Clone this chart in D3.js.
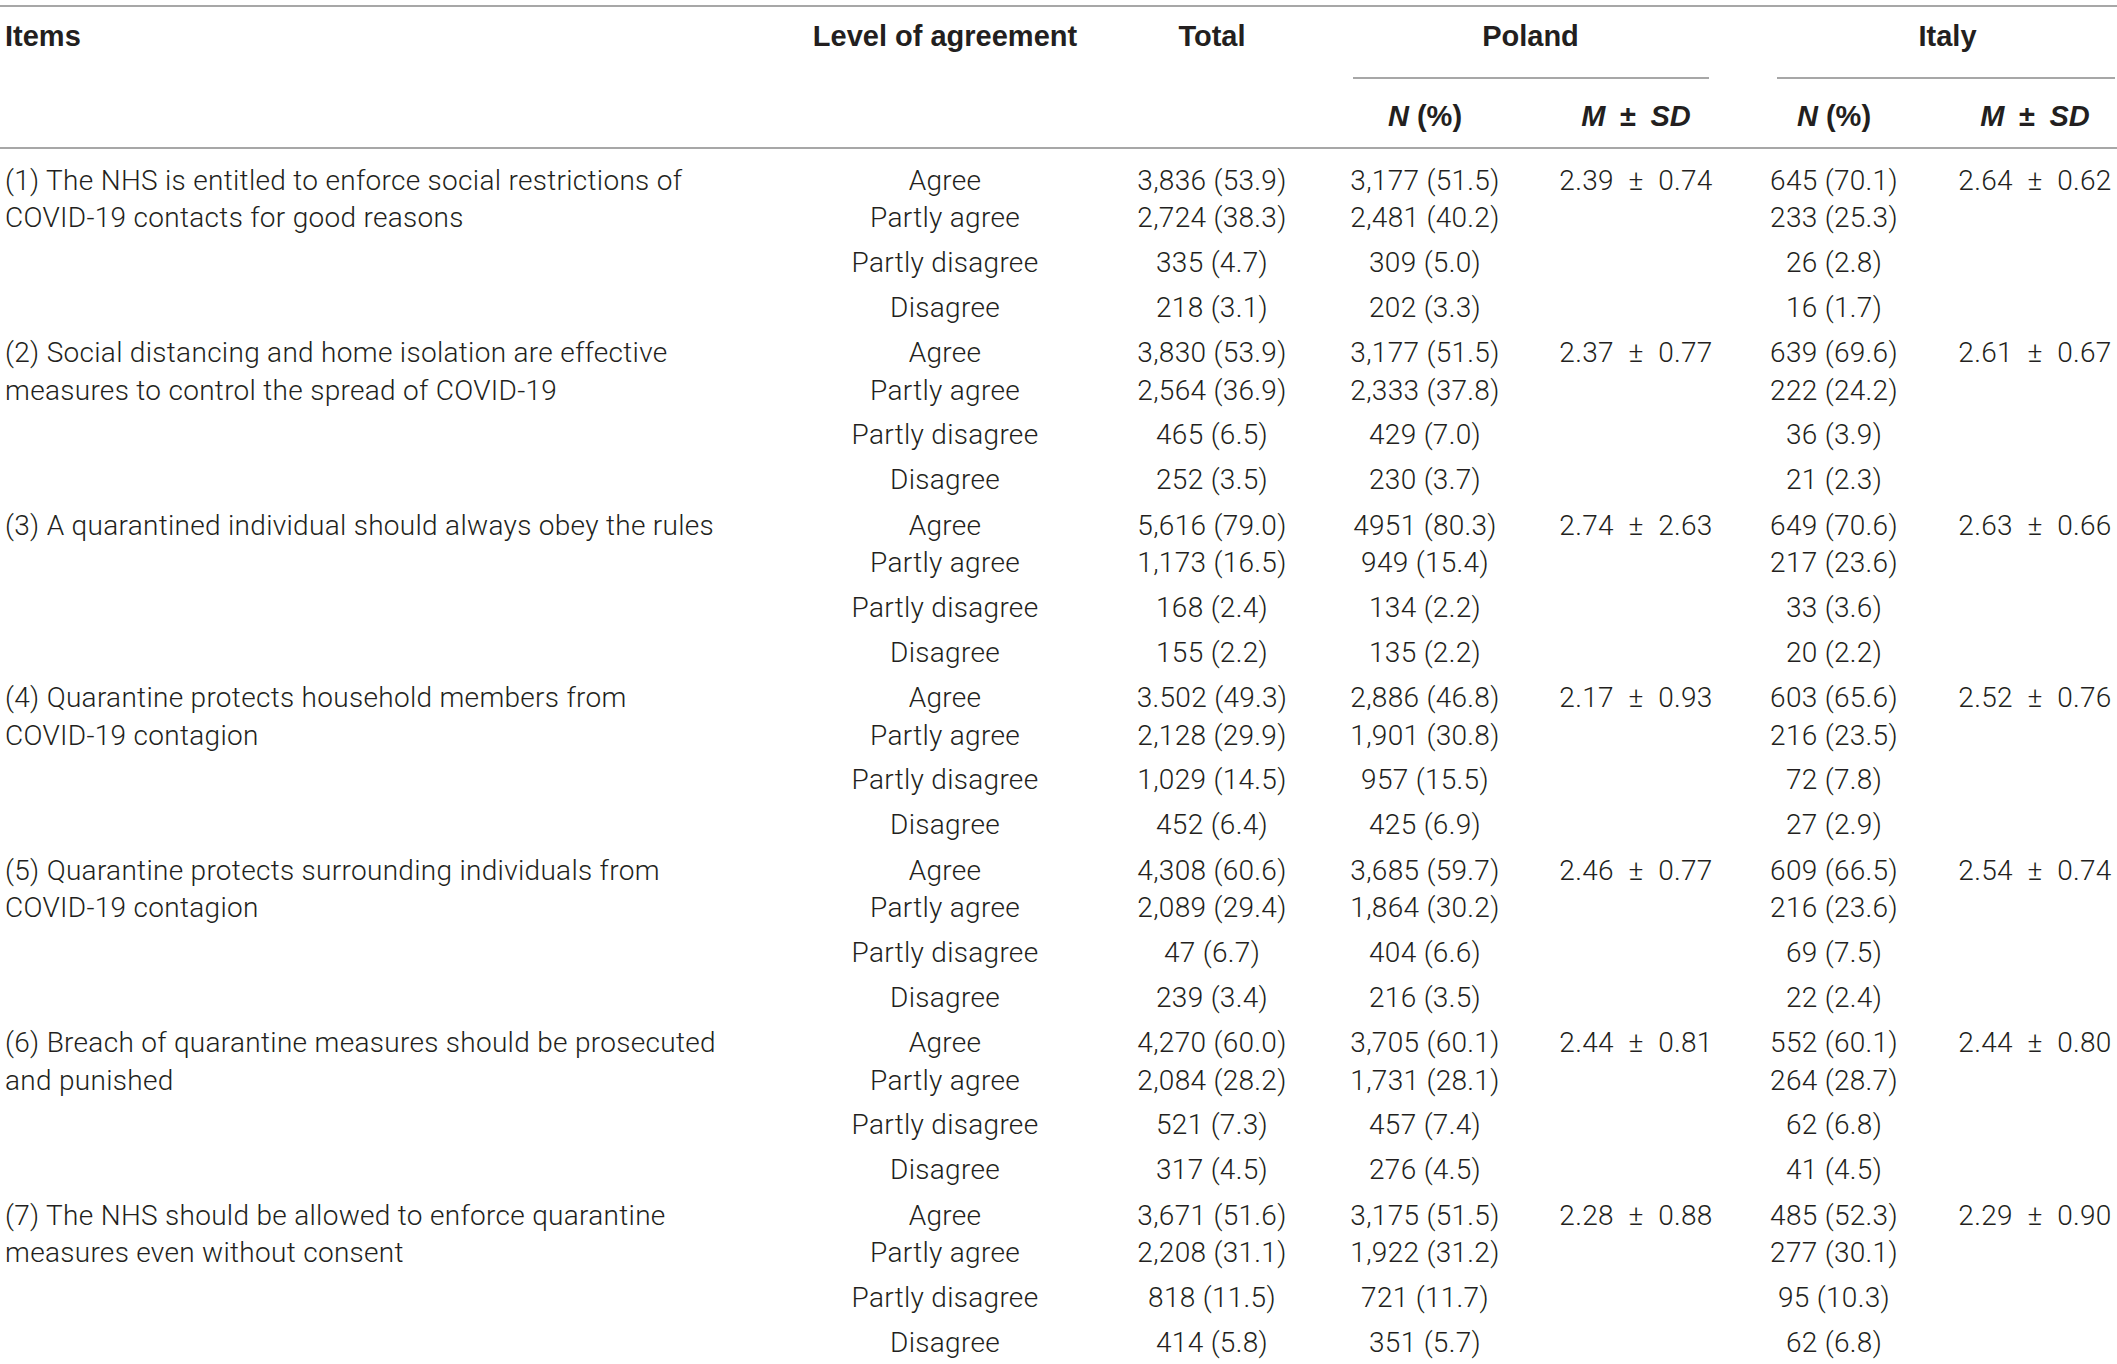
<html>
<head>
  <script src="https://d3js.org/d3.v7.min.js"></script>
  <style>
    body { margin: 0; background: #fff; }
    text { fill: #231f20; }
    .body text { font-family: Roboto, "Liberation Sans", sans-serif; font-weight: 300; letter-spacing: 0.3px; }
    .head text { font-family: "Liberation Sans", Arial, sans-serif; font-weight: 700; }
  </style>
</head>
<body>
<script>
// table contents
var items = [
  ["(1) The NHS is entitled to enforce social restrictions of", "COVID-19 contacts for good reasons"],
  ["(2) Social distancing and home isolation are effective", "measures to control the spread of COVID-19"],
  ["(3) A quarantined individual should always obey the rules"],
  ["(4) Quarantine protects household members from", "COVID-19 contagion"],
  ["(5) Quarantine protects surrounding individuals from", "COVID-19 contagion"],
  ["(6) Breach of quarantine measures should be prosecuted", "and punished"],
  ["(7) The NHS should be allowed to enforce quarantine", "measures even without consent"]
];
var levels = ["Agree", "Partly agree", "Partly disagree", "Disagree"];

var totalN = [
  ["3,836 (53.9)", "2,724 (38.3)", "335 (4.7)", "218 (3.1)"],
  ["3,830 (53.9)", "2,564 (36.9)", "465 (6.5)", "252 (3.5)"],
  ["5,616 (79.0)", "1,173 (16.5)", "168 (2.4)", "155 (2.2)"],
  ["3.502 (49.3)", "2,128 (29.9)", "1,029 (14.5)", "452 (6.4)"],
  ["4,308 (60.6)", "2,089 (29.4)", "47 (6.7)", "239 (3.4)"],
  ["4,270 (60.0)", "2,084 (28.2)", "521 (7.3)", "317 (4.5)"],
  ["3,671 (51.6)", "2,208 (31.1)", "818 (11.5)", "414 (5.8)"]
];
var polandN = [
  ["3,177 (51.5)", "2,481 (40.2)", "309 (5.0)", "202 (3.3)"],
  ["3,177 (51.5)", "2,333 (37.8)", "429 (7.0)", "230 (3.7)"],
  ["4951 (80.3)", "949 (15.4)", "134 (2.2)", "135 (2.2)"],
  ["2,886 (46.8)", "1,901 (30.8)", "957 (15.5)", "425 (6.9)"],
  ["3,685 (59.7)", "1,864 (30.2)", "404 (6.6)", "216 (3.5)"],
  ["3,705 (60.1)", "1,731 (28.1)", "457 (7.4)", "276 (4.5)"],
  ["3,175 (51.5)", "1,922 (31.2)", "721 (11.7)", "351 (5.7)"]
];
var polandMSD = [[2.39, 0.74], [2.37, 0.77], [2.74, 2.63], [2.17, 0.93], [2.46, 0.77], [2.44, 0.81], [2.28, 0.88]];
var italyN = [
  ["645 (70.1)", "233 (25.3)", "26 (2.8)", "16 (1.7)"],
  ["639 (69.6)", "222 (24.2)", "36 (3.9)", "21 (2.3)"],
  ["649 (70.6)", "217 (23.6)", "33 (3.6)", "20 (2.2)"],
  ["603 (65.6)", "216 (23.5)", "72 (7.8)", "27 (2.9)"],
  ["609 (66.5)", "216 (23.6)", "69 (7.5)", "22 (2.4)"],
  ["552 (60.1)", "264 (28.7)", "62 (6.8)", "41 (4.5)"],
  ["485 (52.3)", "277 (30.1)", "95 (10.3)", "62 (6.8)"]
];
var italyMSD = [[2.64, 0.62], [2.61, 0.67], [2.63, 0.66], [2.52, 0.76], [2.54, 0.74], [2.44, 0.80], [2.29, 0.90]];

var W = 2117, H = 1364;
var svg = d3.select("body").append("svg").attr("width", W).attr("height", H);

var cols = ["level", "total", "plN", "plM", "itN", "itM"];
var x = d3.scaleOrdinal().domain(cols).range([945, 1212, 1425, 1636, 1834, 2035]);

var y = d3.scaleBand().domain(d3.range(items.length)).range([180, 1388]);
var rowOff = d3.scaleOrdinal().domain(d3.range(4)).range([0, 37.5, 82, 127]);

var fs = 28, hfs = 29;
var sp = "\u2002";
var fmt = d3.format(".2f");

// rules
var rule = "#a7a7a7";
var rules = svg.append("g").attr("stroke", rule).attr("stroke-width", 2);
rules.append("line").attr("x1", 0).attr("x2", W).attr("y1", 6).attr("y2", 6);
rules.append("line").attr("x1", 0).attr("x2", W).attr("y1", 148).attr("y2", 148);
rules.append("line").attr("x1", 1353).attr("x2", 1709).attr("y1", 78).attr("y2", 78);
rules.append("line").attr("x1", 1777).attr("x2", 2115).attr("y1", 78).attr("y2", 78);

// header
var head = svg.append("g").attr("class", "head").attr("font-size", hfs).attr("dominant-baseline", "central");
head.append("text").attr("x", 5).attr("y", 36).text("Items");
head.append("text").attr("x", x("level")).attr("y", 36).attr("text-anchor", "middle").text("Level of agreement");
head.append("text").attr("x", x("total")).attr("y", 36).attr("text-anchor", "middle").text("Total");
head.append("text").attr("x", (x("plN") + x("plM")) / 2).attr("y", 36).attr("text-anchor", "middle").text("Poland");
head.append("text").attr("x", (x("itN") + x("itM")) / 2 + 13).attr("y", 36).attr("text-anchor", "middle").text("Italy");

["plN", "itN"].forEach(function (c) {
  var t = head.append("text").attr("x", x(c)).attr("y", 116).attr("text-anchor", "middle");
  t.append("tspan").attr("font-style", "italic").text("N");
  t.append("tspan").text(" (%)");
});
["plM", "itM"].forEach(function (c) {
  var t = head.append("text").attr("x", x(c)).attr("y", 116).attr("text-anchor", "middle");
  t.append("tspan").attr("font-style", "italic").text("M");
  t.append("tspan").text(sp + "±" + sp);
  t.append("tspan").attr("font-style", "italic").text("SD");
});

// body
var body = svg.append("g").attr("class", "body").attr("font-size", fs).attr("dominant-baseline", "central");

var blocks = body.selectAll("g.block").data(items).enter().append("g")
  .attr("class", "block")
  .attr("transform", function (d, i) { return "translate(0," + y(i) + ")"; });

blocks.selectAll("text.item").data(function (d) { return d; }).enter().append("text")
  .attr("class", "item").attr("x", 5).attr("y", function (d, j) { return rowOff(j); })
  .text(function (d) { return d; });

blocks.selectAll("text.level").data(levels).enter().append("text")
  .attr("class", "level").attr("x", x("level")).attr("y", function (d, j) { return rowOff(j); })
  .attr("text-anchor", "middle").text(function (d) { return d; });

[["total", totalN], ["plN", polandN], ["itN", italyN]].forEach(function (p) {
  blocks.selectAll("text." + p[0]).data(function (d, i) { return p[1][i]; }).enter().append("text")
    .attr("class", p[0]).attr("x", x(p[0])).attr("y", function (d, j) { return rowOff(j); })
    .attr("text-anchor", "middle").text(function (d) { return d; });
});

[["plM", polandMSD], ["itM", italyMSD]].forEach(function (p) {
  blocks.append("text").attr("x", x(p[0])).attr("y", rowOff(0))
    .attr("text-anchor", "middle")
    .text(function (d, i) { return fmt(p[1][i][0]) + sp + "±" + sp + fmt(p[1][i][1]); });
});
</script>
</body>
</html>
